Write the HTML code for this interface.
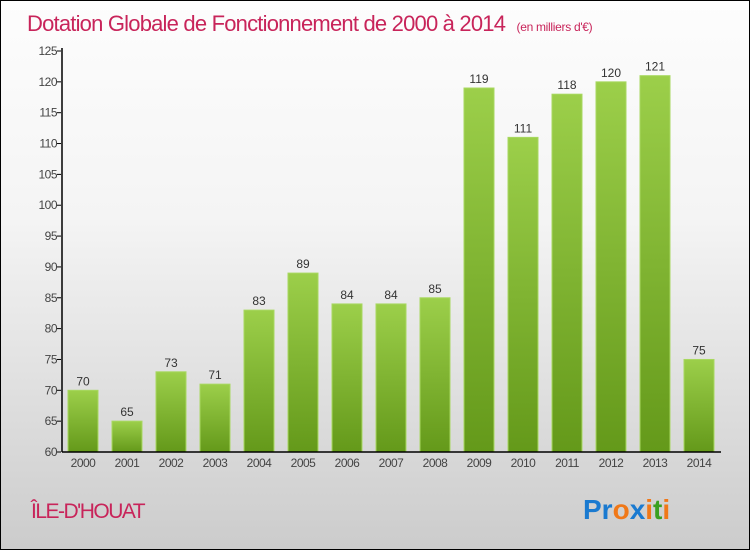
<!DOCTYPE html>
<html><head><meta charset="utf-8"><style>
body{margin:0;}
#wrap{position:relative;width:750px;height:550px;box-sizing:border-box;border:1px solid #000;background:linear-gradient(#fdfdfd,#f4f4f4 40%,#cccccc);font-family:"Liberation Sans",sans-serif;overflow:hidden}
svg{position:absolute;left:0;top:0}
</style></head><body>
<div id="wrap">
<svg id="chart" width="750" height="550">
<defs><linearGradient id="g" x1="0" y1="0" x2="0" y2="1"><stop offset="0" stop-color="#9ccf4a"/><stop offset="1" stop-color="#64991a"/></linearGradient></defs>
<text x="26" y="30" font-size="22" fill="#c8245a" style="letter-spacing:-0.8px">Dotation Globale de Fonctionnement de 2000 à 2014 <tspan font-size="12" dx="6" style="letter-spacing:-0.3px">(en milliers d'€)</tspan></text>
<text x="30" y="517" font-size="21" fill="#c8245a" style="letter-spacing:-1.5px">ÎLE-D'HOUAT</text>
<text x="582" y="518" font-size="28" font-weight="bold"><tspan fill="#1a7ad0">Pr</tspan><tspan fill="#f07818">o</tspan><tspan fill="#1a7ad0">x</tspan><tspan fill="#f07818">i</tspan><tspan fill="#3aa020">t</tspan><tspan fill="#f07818">i</tspan></text>
</svg>
</div>
<script>
const years=["2000","2001","2002","2003","2004","2005","2006","2007","2008","2009","2010","2011","2012","2013","2014"];
const values=[70,65,73,71,83,89,84,84,85,119,111,118,120,121,75];
const yTicks=[60,65,70,75,80,85,90,95,100,105,110,115,120,125];
const svg=document.getElementById('chart');
const NS='http://www.w3.org/2000/svg';
const x0=60,x1=720,yTop=50,yBot=451,vMin=60,vMax=125;
const y=v=>yBot-(v-vMin)/(vMax-vMin)*(yBot-yTop);
const step=(x1-x0)/years.length;
const xc=i=>x0+step*(i+0.5);
function mk(t,a){const e=document.createElementNS(NS,t);for(const k in a)e.setAttribute(k,a[k]);svg.appendChild(e);return e;}
yTicks.forEach(v=>{
 const l=mk('line',{x1:x0-4,x2:x0,y1:y(v),y2:y(v),stroke:'#000'});
 
 
 const t=mk('text',{x:x0-4,y:y(v)+4,'font-size':12,fill:'#444','text-anchor':'end','letter-spacing':'-0.5'});
 t.textContent=v;
 
 
});
years.forEach((yr,i)=>{
 const b=mk('rect',{x:xc(i)-15,y:y(values[i]),width:30,height:yBot-y(values[i]),fill:'url(#g)',stroke:'#a8d860','stroke-width':1});
 
 
 const v=mk('text',{x:xc(i),y:y(values[i])-5,'font-size':12,fill:'#333','text-anchor':'middle'});
 v.textContent=values[i];
 
 
 const t=mk('text',{x:xc(i),y:466,'font-size':12,fill:'#444','text-anchor':'middle','letter-spacing':'-0.5'});
 t.textContent=yr;
 
 
});
const ax=mk('line',{x1:x0+1,x2:x0+1,y1:yTop-3,y2:yBot,stroke:'#000','stroke-width':1.5});


const bx=mk('line',{x1:x0+1,x2:x1,y1:yBot,y2:yBot,stroke:'#000','stroke-width':1.5});


</script>
</body></html>
